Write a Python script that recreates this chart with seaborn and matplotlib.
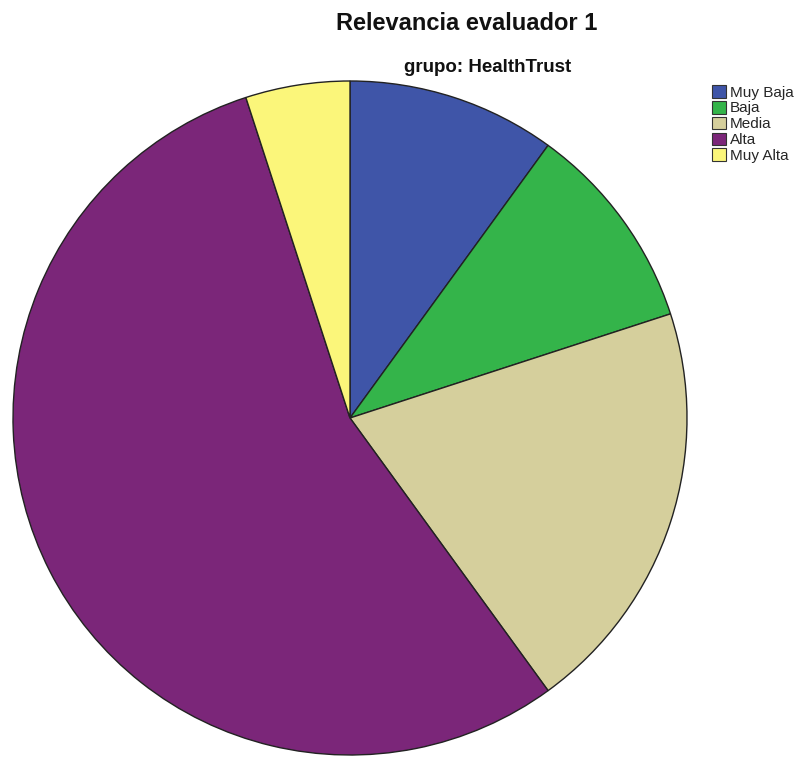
import matplotlib
matplotlib.use("Agg")
import matplotlib.pyplot as plt
import seaborn as sns
from matplotlib.patches import Patch

categories = ["Muy Baja", "Baja", "Media", "Alta", "Muy Alta"]
counts = [2, 2, 4, 11, 1]
colors_hex = ["#3F55A8", "#34B44A", "#D5CF9C", "#7B2679", "#FBF67A"]
title = "Relevancia evaluador 1"
subtitle = "grupo: HealthTrust"

sns.set_theme(style="white")
plt.rcParams["font.family"] = ["Liberation Sans", "DejaVu Sans"]
palette = sns.color_palette(colors_hex)

W, H = 804, 757
fig = plt.figure(figsize=(W / 100, H / 100), dpi=100)
cx, cy, r = 350, 418, 337
ax = fig.add_axes([(cx - r) / W, (H - (cy + r)) / H, 2 * r / W, 2 * r / H])
ax.pie(counts, colors=palette, startangle=90, counterclock=False, radius=1,
       wedgeprops=dict(edgecolor="#222222", linewidth=1.0))
ax.set_xlim(-1.0, 1.0)
ax.set_ylim(-1.0, 1.0)
ax.set_aspect("equal")
ax.axis("off")

fig.text(467 / W, 1 - 23 / H, title, ha="center", va="center",
         fontsize=17, fontweight="bold", color="#111111")
fig.text(488 / W, 1 - 68 / H, subtitle, ha="center", va="center",
         fontsize=13.5, fontweight="bold", color="#111111")

handles = [Patch(facecolor=c, edgecolor="#333333", linewidth=0.8) for c in palette]
fig.legend(handles, categories, loc="upper left",
           bbox_to_anchor=(712 / W, 1 - 85 / H), frameon=False,
           fontsize=11, handlelength=0.9, handleheight=0.9,
           handletextpad=0.25, labelspacing=0.08, borderaxespad=0, borderpad=0)

fig.savefig("out.png", dpi=100)
